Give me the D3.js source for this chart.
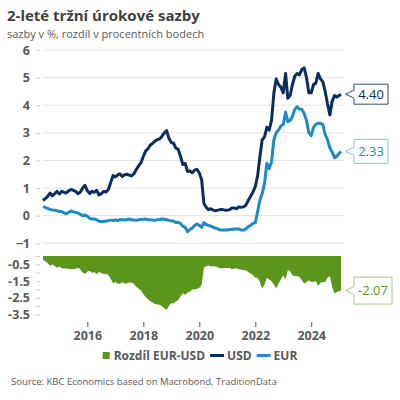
<!DOCTYPE html>
<html>
<head>
<meta charset="utf-8">
<script src="https://cdn.jsdelivr.net/npm/d3@7"></script>
<style>
  html, body { margin: 0; padding: 0; background: #fff; }
  svg { display: block; }
  text { font-family: "Open Sans", "Noto Sans", sans-serif; }
</style>
</head>
<body>
<svg id="chart" width="400" height="400"></svg>
<script>
// ---- data (monthly, Jun 2014 .. Jan 2025) ----
const firstMonth = new Date(2014, 5, 1);
const lastDate = new Date(2025, 0, 24);

const usd = [
  0.55, 0.62, 0.70, 0.82, 0.72, 0.80, 0.88,
  0.78, 0.88, 0.85, 0.82, 0.90, 0.95, 0.92, 0.88, 0.80, 0.85, 1.00, 1.10,
  0.90, 0.80, 0.88, 0.85, 0.92, 0.75, 0.80, 0.88, 0.86, 0.95, 1.20, 1.45,
  1.40, 1.48, 1.52, 1.42, 1.48, 1.50, 1.47, 1.44, 1.52, 1.68, 1.80, 1.92,
  2.15, 2.35, 2.42, 2.55, 2.62, 2.70, 2.75, 2.78, 2.88, 3.00, 3.08, 2.80,
  2.65, 2.62, 2.45, 2.40, 2.15, 1.85, 1.90, 1.60, 1.62, 1.55, 1.65, 1.68,
  1.55, 1.30, 0.45, 0.30, 0.22, 0.25, 0.20, 0.18, 0.20, 0.22, 0.22, 0.20,
  0.20, 0.22, 0.28, 0.28, 0.25, 0.32, 0.30, 0.32, 0.38, 0.55, 0.70, 0.85,
  1.05, 1.45, 2.10, 2.75, 2.85, 3.20, 3.10, 3.45, 4.45, 4.95, 4.75, 4.65,
  4.45, 5.15, 4.25, 4.35, 4.75, 5.05, 5.15, 5.10, 5.30, 5.35, 5.00, 4.45,
  4.45, 4.75, 4.80, 5.15, 4.95, 4.85, 4.50, 4.05, 3.65, 4.15, 4.35, 4.30,
  4.40
];

const eur = [
  0.33, 0.30, 0.26, 0.23, 0.21, 0.20, 0.18,
  0.15, 0.15, 0.10, 0.07, 0.12, 0.17, 0.14, 0.12, 0.10, 0.05, 0.00, 0.03,
  -0.02, -0.10, -0.12, -0.12, -0.15, -0.20, -0.22, -0.20, -0.20, -0.18, -0.16, -0.18,
  -0.15, -0.18, -0.14, -0.15, -0.16, -0.14, -0.12, -0.15, -0.16, -0.17, -0.15, -0.14,
  -0.13, -0.12, -0.15, -0.15, -0.16, -0.17, -0.15, -0.14, -0.12, -0.13, -0.15, -0.17,
  -0.18, -0.20, -0.25, -0.24, -0.28, -0.38, -0.42, -0.58, -0.50, -0.45, -0.35, -0.30,
  -0.35, -0.42, -0.25, -0.32, -0.35, -0.38, -0.42, -0.45, -0.48, -0.52, -0.52, -0.52,
  -0.52, -0.50, -0.50, -0.48, -0.48, -0.48, -0.52, -0.52, -0.48, -0.40, -0.35, -0.28,
  -0.25, 0.15, 0.55, 0.80, 1.15, 1.90, 1.70, 1.95, 2.75, 3.00, 3.10, 3.25,
  3.30, 3.75, 3.40, 3.45, 3.60, 3.85, 3.95, 3.85, 3.85, 3.70, 3.45, 3.00,
  2.90, 3.20, 3.30, 3.35, 3.35, 3.30, 2.95, 2.75, 2.45, 2.30, 2.10, 2.15,
  2.33
];

const topTicks = [-1, 0, 1, 2, 3, 4, 5, 6];
const bottomTicks = [0, -0.5, -1, -1.5, -2, -2.5, -3, -3.5];
const bottomTickLabels = [-0.5, -1.5, -2.5, -3.5];
const yearTicks = [2016, 2018, 2020, 2022, 2024];

const titleText = "2-leté tržní úrokové sazby";
const subtitleText = "sazby v %, rozdíl v procentních bodech";
const sourceText = "Source: KBC Economics based on Macrobond, TraditionData";
const legendLabels = ["Rozdíl EUR-USD", "USD", "EUR"];

// ---- build ----
const dates = d3.timeMonth.range(firstMonth, new Date(2025, 0, 1));
dates.push(lastDate);
const rows = dates.map((d, i) => ({ date: d, usd: usd[i], eur: eur[i], diff: +(eur[i] - usd[i]).toFixed(2) }));

const C_USD = "#0c2d5e", C_EUR = "#1f8bc3", C_DIFF = "#5b951b";
const C_TXT = "#595959";

const svg = d3.select("#chart");

svg.append("text").attr("x", 7).attr("y", 20.5)
  .attr("font-size", 15).attr("font-weight", "bold").attr("fill", "#404040")
  .text(titleText);
svg.append("text").attr("x", 7).attr("y", 38)
  .attr("font-size", 11).attr("fill", C_TXT)
  .text(subtitleText);

const x = d3.scaleTime().domain([firstMonth, lastDate]).range([43, 341]);
const yTop = d3.scaleLinear().domain([-1, 6]).range([243.3, 50]);
const yBot = d3.scaleLinear().domain([0, -3.5]).range([256, 314.5]);

// gridlines (top)
svg.append("g").selectAll("line").data(topTicks).join("line")
  .attr("x1", 43).attr("x2", 344)
  .attr("y1", d => yTop(d)).attr("y2", d => yTop(d))
  .attr("stroke", "#e3e3e3").attr("stroke-width", 1);

const tickFont = sel => sel.attr("fill", C_TXT).attr("font-size", 12.5).attr("font-weight", "bold")
  .attr("font-family", "'Open Sans', sans-serif");

// top axis
const axT = svg.append("g").attr("transform", "translate(40,0)")
  .call(d3.axisLeft(yTop).tickValues(topTicks).tickSize(4).tickPadding(6).tickFormat(d3.format("d")));
axT.select(".domain").remove();
axT.selectAll(".tick line").attr("stroke", "#c8c8c8");
tickFont(axT.selectAll(".tick text"));

// bottom axis
const axB = svg.append("g").attr("transform", "translate(40,0)")
  .call(d3.axisLeft(yBot).tickValues(bottomTicks).tickSize(4).tickPadding(6)
    .tickFormat(d => bottomTickLabels.includes(d) ? String(d) : ""));
axB.select(".domain").remove();
axB.selectAll(".tick line").attr("stroke", "#c8c8c8");
tickFont(axB.selectAll(".tick text"));

// diff area
svg.append("path").datum(rows)
  .attr("d", d3.area().x(d => x(d.date)).y0(yBot(0)).y1(d => yBot(d.diff)))
  .attr("fill", C_DIFF);

// lines
const lineT = key => d3.line().x(d => x(d.date)).y(d => yTop(d[key]));
svg.append("path").datum(rows).attr("d", lineT("usd"))
  .attr("fill", "none").attr("stroke", C_USD).attr("stroke-width", 3).attr("stroke-linejoin", "round");
svg.append("path").datum(rows).attr("d", lineT("eur"))
  .attr("fill", "none").attr("stroke", C_EUR).attr("stroke-width", 3).attr("stroke-linejoin", "round");

// x axis
const axX = svg.append("g").attr("transform", "translate(0,322)")
  .call(d3.axisBottom(x).tickValues(yearTicks.map(y => new Date(y, 0, 1))).tickSize(5).tickPadding(4)
    .tickFormat(d3.timeFormat("%Y")));
axX.select(".domain").remove();
axX.selectAll(".tick line").attr("stroke", "#595959");
tickFont(axX.selectAll(".tick text"));

// callouts
function callout(yPos, label, stroke, color, h, w) {
  const tipX = 345.5, bx = 354, bw = w;
  const g = svg.append("g");
  const top = yPos - h / 2, bot = yPos + h / 2;
  const p = `M${tipX},${yPos} L${bx},${yPos - 4} L${bx},${top} L${bx + bw},${top} L${bx + bw},${bot} L${bx},${bot} L${bx},${yPos + 4} Z`;
  g.append("path").attr("d", p).attr("fill", "#fff").attr("stroke", stroke).attr("stroke-width", 1);
  g.append("text").attr("x", bx + bw / 2).attr("y", yPos + 4.5).attr("text-anchor", "middle")
    .attr("font-size", 13).attr("fill", color).text(label);
}
const last = rows[rows.length - 1];
callout(yTop(last.usd), last.usd.toFixed(2), "#34496e", C_USD, 20, 34);
callout(yTop(last.eur), last.eur.toFixed(2), "#86c4e6", C_EUR, 24, 34);
callout(yBot(last.diff), last.diff.toFixed(2), "#a9cd84", C_DIFF, 27, 38);

// legend
const lg = svg.append("g");
let cx = 0;
const items = [
  { label: legendLabels[0], type: "rect", color: C_DIFF },
  { label: legendLabels[1], type: "line", color: C_USD },
  { label: legendLabels[2], type: "line", color: C_EUR }
];
items.forEach(it => {
  if (it.type === "rect") {
    lg.append("rect").attr("x", cx).attr("y", -6.5).attr("width", 7).attr("height", 7).attr("fill", it.color);
    cx += 11;
  } else {
    lg.append("line").attr("x1", cx).attr("x2", cx + 14).attr("y1", -3).attr("y2", -3)
      .attr("stroke", it.color).attr("stroke-width", 3);
    cx += 17;
  }
  const t = lg.append("text").attr("x", cx).attr("y", 1.5).attr("font-size", 12).attr("font-weight", "bold")
    .attr("fill", C_TXT).text(it.label);
  cx += t.node().getComputedTextLength() + 5;
});
const lw = cx - 5;
lg.attr("transform", `translate(${200 - lw / 2},358.5)`);

svg.append("text").attr("x", 11).attr("y", 384.5)
  .attr("font-size", 9.5).attr("fill", C_TXT).text(sourceText);
</script>
</body>
</html>
